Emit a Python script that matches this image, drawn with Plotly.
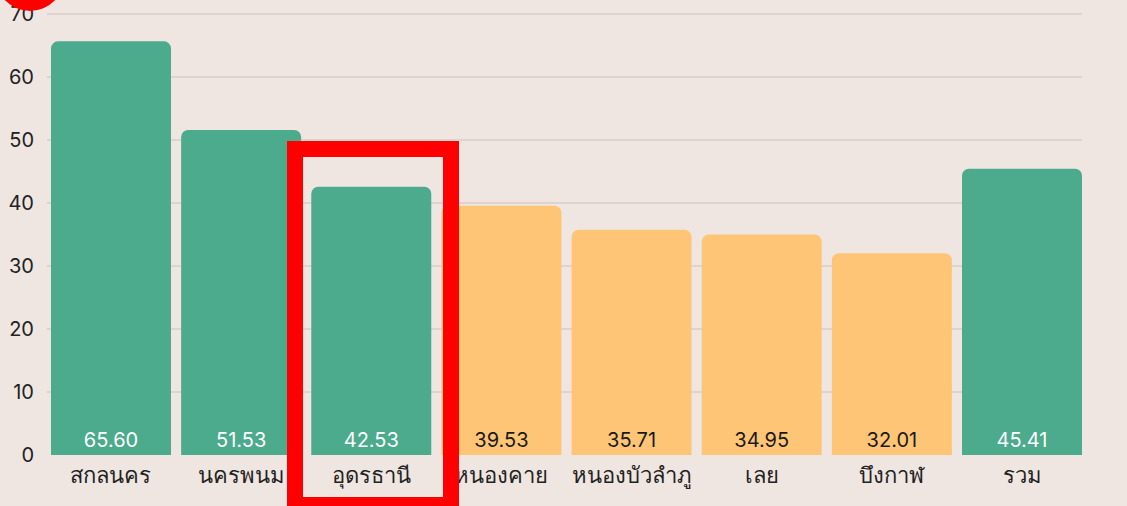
import plotly.graph_objects as go

categories = ["สกลนคร", "นครพนม", "อุดรธานี", "หนองคาย", "หนองบัวลำภู", "เลย", "บึงกาฬ", "รวม"]
values = [65.60, 51.53, 42.53, 39.53, 35.71, 34.95, 32.01, 45.41]
groups = ["high", "high", "high", "low", "low", "low", "low", "high"]
y_ticks = [0, 10, 20, 30, 40, 50, 60, 70]

GREEN = "#4CAA8D"
ORANGE = "#FFC577"
BG = "#EFE6E1"

colors = [GREEN if g == "high" else ORANGE for g in groups]
text_colors = ["white" if g == "high" else "#1a1a1a" for g in groups]

fig = go.Figure(go.Bar(
    x=categories,
    y=values,
    marker=dict(color=colors, line=dict(width=0)),
    text=[f"{v:.2f}" for v in values],
    textposition="inside",
    insidetextanchor="start",
    textangle=0,
    textfont=dict(color=text_colors, size=20, family="Inter, Noto Sans, sans-serif"),
    hoverinfo="skip",
))

L, R = 47, 45
pw = 1127 - L - R

def px_to_paper_x(px):
    return (px - L) / pw

fig.update_layout(
    width=1127, height=506,
    margin=dict(l=L, r=R, t=1, b=51),
    paper_bgcolor=BG, plot_bgcolor=BG,
    bargap=0.078,
    barcornerradius=7,
    showlegend=False,
    font=dict(family="Inter, Noto Sans, sans-serif", color="#222222"),
    xaxis=dict(
        range=[-0.4917, 7.461],
        tickfont=dict(size=22, color="#222222"),
        showgrid=False, showline=False, zeroline=False,
        ticklabelstandoff=5,
    ),
    yaxis=dict(
        range=[0, 72],
        tickvals=y_ticks,
        tickfont=dict(size=20, color="#222222"),
        showgrid=True, gridcolor="#DDD4CF", gridwidth=2,
        zeroline=False, showline=False,
        ticklabelstandoff=12,
    ),
    shapes=[
        dict(type="circle", xref="paper", yref="paper",
             x0=px_to_paper_x(-5), x1=px_to_paper_x(65), y0=0.978, y1=1.134,
             fillcolor="#FF0000", line=dict(width=0), layer="above"),
        dict(type="rect", xref="paper", yref="paper",
             x0=px_to_paper_x(295), x1=px_to_paper_x(451), y0=-0.110, y1=0.674,
             fillcolor="rgba(0,0,0,0)", line=dict(color="#FF0000", width=16), layer="above"),
    ],
)

fig.write_html(
    "out.html",
    config={"displayModeBar": False},
    post_script="document.body.style.margin='0';document.body.style.background='#EFE6E1';document.body.style.overflow='hidden';",
)
